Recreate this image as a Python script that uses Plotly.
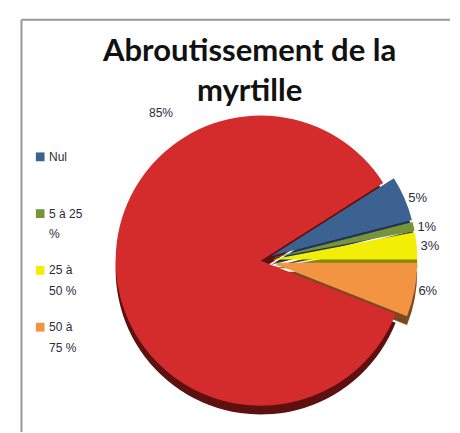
import plotly.graph_objects as go

# Data
labels = ["Nul", "5 à 25 %", "25 à 50 %", "50 à 75 %", "75 à 100 %"]
legend_labels = ["Nul", "5 à 25<br>%", "25 à<br>50 %", "50 à<br>75 %"]
values = [5, 1, 3, 6, 85]
colors = ["#3B6291", "#77933C", "#F2EE05", "#F29442", "#D42C2C"]
shadow_colors = ["#1F3450", "#3E4E1F", "#8A8600", "#7A4A1E", "#5E1010"]
pulls = [0.08, 0.08, 0.08, 0.08, 0.0]
title = "Abroutissement de la<br>myrtille"

W, H = 460, 433
cx, cy, R = 263, 258, 151          # pixel geometry of the pie
half = R * (1 + max(pulls))
TXT = "#2a2a3a"

def dom(dy=0):
    x0 = (cx - half) / W
    x1 = (cx + half) / W
    y0 = 1 - (cy + dy + half) / H
    y1 = 1 - (cy + dy - half) / H
    return dict(x=[x0, x1], y=[y0, y1])

fig = go.Figure()

# 3D-like rim (shadow)
fig.add_trace(go.Pie(
    labels=labels, values=values, sort=False, direction="clockwise",
    rotation=90 - 32.4, pull=pulls,
    marker=dict(colors=shadow_colors, line=dict(width=0)),
    textinfo="none", hoverinfo="skip", showlegend=False, domain=dom(9),
))

texts = [f"{v}%" for v in values]
texts[-1] = ""
fig.add_trace(go.Pie(
    labels=labels, values=values, sort=False, direction="clockwise",
    rotation=90 - 32.4, pull=pulls,
    marker=dict(colors=colors, line=dict(width=0)),
    text=texts, textinfo="text", textposition="outside",
    textfont=dict(family="Liberation Sans", size=13, color=TXT),
    showlegend=False, domain=dom(0),
))

# 85% label placed as in the original
fig.add_annotation(x=145 / W, y=1 - 98 / H, xref="paper", yref="paper",
                   text=f"{values[-1]}%", showarrow=False,
                   font=dict(family="Liberation Sans", size=12, color=TXT))

# Title
fig.add_annotation(x=251 / W, y=1 - 20 / H, xref="paper", yref="paper",
                   xanchor="center", yanchor="top", text=title, showarrow=False,
                   font=dict(family="Lato", size=31, color="#111111", weight="bold"))

# Legend (red slice not in legend, as in original)
shapes = [
    dict(type="line", xref="paper", yref="paper", x0=14 / W, x1=14 / W,
         y0=0, y1=1 - 12 / H, line=dict(color="#999999", width=2)),
    dict(type="line", xref="paper", yref="paper", x0=14 / W, x1=1,
         y0=1 - 12 / H, y1=1 - 12 / H, line=dict(color="#999999", width=2)),
]
for i, (lab, col) in enumerate(zip(legend_labels, colors[:4])):
    ytop = 152 + i * 58
    shapes.append(dict(type="rect", xref="paper", yref="paper",
                       x0=29 / W, x1=38 / W, y0=1 - (ytop + 4.5) / H, y1=1 - (ytop - 4.5) / H,
                       fillcolor=col, line=dict(width=0)))
    for j, line in enumerate(lab.split("<br>")):
        fig.add_annotation(x=41 / W, y=1 - (ytop + j * 21) / H, xref="paper", yref="paper",
                           xanchor="left", yanchor="middle", text=line, showarrow=False,
                           font=dict(family="Liberation Sans", size=12, color=TXT))

fig.update_layout(
    width=W, height=H,
    margin=dict(l=0, r=0, t=0, b=0),
    paper_bgcolor="white", plot_bgcolor="white",
    showlegend=False,
    shapes=shapes,
)

fig.write_html("out.html")
